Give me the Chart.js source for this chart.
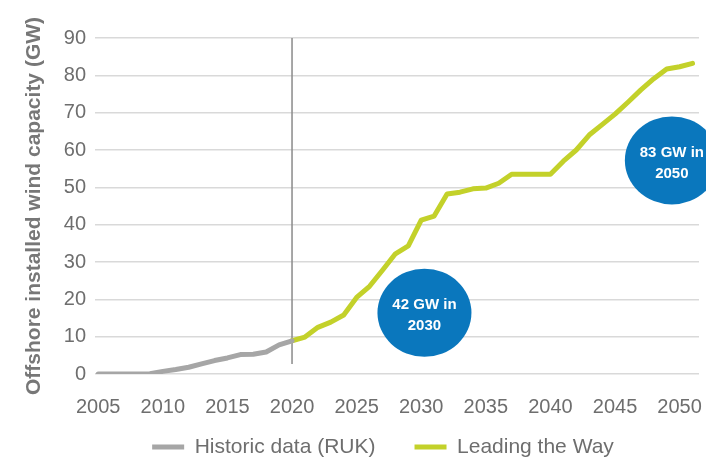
<!DOCTYPE html>
<html>
<head>
<meta charset="utf-8">
<script src="https://cdn.jsdelivr.net/npm/chart.js@4"></script>
<style>
    html, body { margin: 0; padding: 0; background: #fff; }
    #wrap { width: 706px; height: 458px; }
</style>
</head>
<body>
<div id="wrap"><canvas id="chart"></canvas></div>
<script>
// Historic installed capacity (GW)
const historicYears = [2005, 2006, 2007, 2008, 2009, 2010, 2011, 2012, 2013, 2014, 2015, 2016, 2017, 2018, 2019, 2020];
const historicValues = [0, 0, 0, 0, 0.1, 0.7, 1.2, 1.8, 2.7, 3.6, 4.3, 5.2, 5.3, 5.9, 7.8, 8.9];

// "Leading the Way" scenario (GW)
const projectionYears = [2020, 2021, 2022, 2023, 2024, 2025, 2026, 2027, 2028, 2029, 2030, 2031, 2032, 2033, 2034, 2035,
    2036, 2037, 2038, 2039, 2040, 2041, 2042, 2043, 2044, 2045, 2046, 2047, 2048, 2049, 2050, 2051];
const projectionValues = [8.9, 9.9, 12.5, 13.9, 15.8, 20.5, 23.5, 27.8, 32.2, 34.3, 41.2, 42.3, 48.2, 48.7, 49.6, 49.8,
    51.1, 53.5, 53.5, 53.5, 53.5, 57, 60, 64, 66.8, 69.6, 72.8, 76.1, 79.1, 81.7, 82.3, 83.2];

const xTickYears = [2005, 2010, 2015, 2020, 2025, 2030, 2035, 2040, 2045, 2050];
const splitYear = 2020;

// Callout bubbles, anchored in data units
const calloutTexts = [['42 GW in', '2030'], ['83 GW in', '2050']];
const calloutYears = [2030.25, 2049.4];
const calloutValues = [16.4, 57.2];

const FONT = "'Liberation Sans', Arial, Helvetica, sans-serif";
const GREY_TEXT = '#6e6e6e';

const toPoints = (xs, ys) => xs.map((x, i) => ({ x: x, y: ys[i] }));

// Divider line at the end of the historic data
const dividerPlugin = {
    id: 'divider',
    beforeDatasetsDraw(chart) {
        const { ctx, scales: { x, y } } = chart;
        const px = x.getPixelForValue(splitYear);
        ctx.save();
        ctx.strokeStyle = '#8a8a8a';
        ctx.lineWidth = 1.5;
        ctx.beginPath();
        ctx.moveTo(px, y.getPixelForValue(90));
        ctx.lineTo(px, y.getPixelForValue(2.7));
        ctx.stroke();
        ctx.restore();
    }
};

// Blue bubbles with the headline numbers
const calloutPlugin = {
    id: 'callouts',
    afterDatasetsDraw(chart) {
        const { ctx, scales: { x, y } } = chart;
        ctx.save();
        calloutTexts.forEach((lines, i) => {
            const cx = x.getPixelForValue(calloutYears[i]);
            const cy = y.getPixelForValue(calloutValues[i]);
            ctx.fillStyle = '#0a77bd';
            ctx.beginPath();
            ctx.ellipse(cx, cy, 47, 44, 0, 0, Math.PI * 2);
            ctx.fill();
            ctx.fillStyle = '#ffffff';
            ctx.font = 'bold 15px ' + FONT;
            ctx.textAlign = 'center';
            ctx.textBaseline = 'middle';
            ctx.fillText(lines[0], cx, cy - 8);
            ctx.fillText(lines[1], cx, cy + 13);
        });
        ctx.restore();
    }
};

// The legend needs wide gaps between items but little room above it,
// so it is laid out small and then its box is stretched upwards / nudged left
const legendShiftPlugin = {
    id: 'legendShift',
    afterLayout(chart) {
        const lg = chart.legend;
        if (!lg) return;
        lg.left -= 14;
        lg.right -= 14;
        lg.top -= 20;
    }
};

new Chart(document.getElementById('chart').getContext('2d'), {
    type: 'line',
    data: {
        datasets: [
            {
                label: 'Historic data (RUK)',
                data: toPoints(historicYears, historicValues),
                borderColor: '#a6a6a6',
                backgroundColor: '#a6a6a6',
                borderWidth: 5,
                borderCapStyle: 'round',
                borderJoinStyle: 'round',
                pointRadius: 0,
                tension: 0
            },
            {
                label: 'Leading the Way',
                data: toPoints(projectionYears, projectionValues),
                borderColor: '#c3d12a',
                backgroundColor: '#c3d12a',
                borderWidth: 5,
                borderCapStyle: 'round',
                borderJoinStyle: 'round',
                pointRadius: 0,
                tension: 0
            }
        ]
    },
    options: {
        responsive: true,
        maintainAspectRatio: false,
        animation: false,
        layout: { padding: { left: 22, right: 7, top: 38, bottom: 0 } },
        plugins: {
            tooltip: { enabled: false },
            legend: {
                display: true,
                position: 'bottom',
                fullSize: false,
                maxHeight: 40.5,
                labels: {
                    usePointStyle: true,
                    pointStyle: 'line',
                    pointStyleWidth: 32,
                    padding: 39,
                    color: GREY_TEXT,
                    font: { family: FONT, size: 21 }
                }
            }
        },
        scales: {
            x: {
                type: 'linear',
                min: 2004.75,
                max: 2051.5,
                grid: { display: false },
                border: { display: false },
                afterBuildTicks: (s) => { s.ticks = xTickYears.map(v => ({ value: v })); },
                afterFit: (s) => { s.paddingLeft = 0; s.paddingRight = 0; s.height = 43.5; },
                ticks: {
                    autoSkip: false,
                    maxRotation: 0,
                    padding: 13.5,
                    color: GREY_TEXT,
                    font: { family: FONT, size: 20 },
                    callback: (v) => String(v)
                }
            },
            y: {
                min: 0,
                max: 90,
                border: { display: false },
                grid: { color: '#d9d9d9', lineWidth: 1.5, drawTicks: false },
                afterFit: (s) => { s.width = 73; },
                ticks: {
                    stepSize: 10,
                    padding: 9,
                    color: GREY_TEXT,
                    font: { family: FONT, size: 20 }
                },
                title: {
                    display: true,
                    text: 'Offshore installed wind capacity (GW)',
                    color: '#777777',
                    padding: 0,
                    font: { family: FONT, size: 21, weight: 'bold' }
                }
            }
        }
    },
    plugins: [dividerPlugin, calloutPlugin, legendShiftPlugin]
});
</script>
</body>
</html>
